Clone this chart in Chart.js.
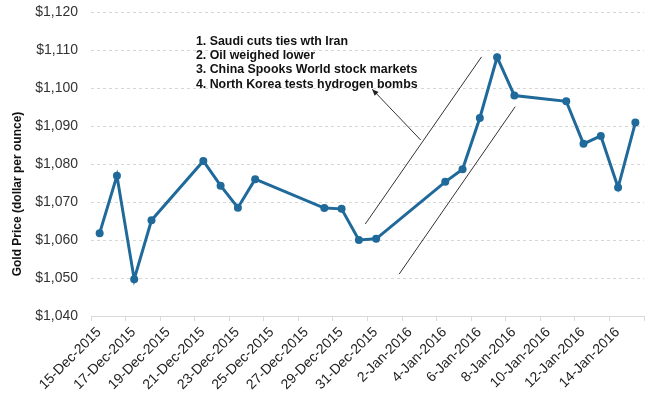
<!DOCTYPE html>
<html>
<head>
<meta charset="utf-8">
<script src="https://cdn.jsdelivr.net/npm/chart.js@4"></script>
<style>
  html, body { margin: 0; padding: 0; background: #fff; }
  #wrap { width: 651px; height: 398px; }
</style>
</head>
<body>
<div id="wrap"><canvas id="gold"></canvas></div>
<script>
// trading days and closing gold price (USD / oz)
const dates = ['2015-12-15','2015-12-16','2015-12-17','2015-12-18','2015-12-21','2015-12-22','2015-12-23','2015-12-24',
  '2015-12-28','2015-12-29','2015-12-30','2015-12-31','2016-01-04','2016-01-05','2016-01-06','2016-01-07','2016-01-08',
  '2016-01-11','2016-01-12','2016-01-13','2016-01-14','2016-01-15'];
const prices = [1061.8, 1076.9, 1049.7, 1065.2, 1080.8, 1074.3, 1068.5, 1076.0,
  1068.4, 1068.2, 1060.0, 1060.3, 1075.3, 1078.6, 1092.1, 1108.1, 1098.0,
  1096.5, 1085.3, 1087.4, 1073.8, 1090.9];
const tickLabels = ['15-Dec-2015','17-Dec-2015','19-Dec-2015','21-Dec-2015','23-Dec-2015','25-Dec-2015','27-Dec-2015',
  '29-Dec-2015','31-Dec-2015','2-Jan-2016','4-Jan-2016','6-Jan-2016','8-Jan-2016','10-Jan-2016','12-Jan-2016','14-Jan-2016'];
const events = ['1. Saudi cuts ties wth Iran', '2. Oil weighed lower', '3. China Spooks World stock markets', '4. North Korea tests hydrogen bombs'];
const yTitle = 'Gold Price (dollar per ounce)';

const start = Date.UTC(2015, 11, 15);
// each day sits in the middle of its slot
const points = dates.map((d, i) => ({ x: (Date.parse(d) - start) / 86400000 + 0.5, y: prices[i] }));

const BLUE = '#1f6a9a';
const FONT = '"Liberation Sans", Arial, sans-serif';

// axis title, callout text, arrow and the two trend lines (in data units)
const notes = {
  id: 'notes',
  afterDatasetsDraw(chart) {
    const { ctx, scales: { x, y } } = chart;
    const px = (d, v) => [x.getPixelForValue(d), y.getPixelForValue(v)];
    ctx.save();

    ctx.save();
    ctx.translate(18, 194);
    ctx.rotate(-Math.PI / 2);
    ctx.fillStyle = '#111';
    ctx.font = 'bold 12px ' + FONT;
    ctx.textAlign = 'center';
    ctx.textBaseline = 'middle';
    ctx.fillText(yTitle, 0, 0);
    ctx.restore();

    ctx.fillStyle = '#111';
    ctx.font = 'bold 12.4px ' + FONT;
    ctx.textBaseline = 'middle';
    const [tx, ty] = px(6.07, 1112.2);
    events.forEach((t, i) => ctx.fillText(t, tx, ty + i * 14.2));

    ctx.strokeStyle = '#333';
    ctx.lineWidth = 1;
    const line = (a, b) => { ctx.beginPath(); ctx.moveTo(a[0], a[1]); ctx.lineTo(b[0], b[1]); ctx.stroke(); };
    line(px(15.87, 1064.2), px(22.6, 1108.2));
    line(px(17.83, 1051.0), px(24.55, 1095.1));

    const tail = px(19.08, 1086.3), head = px(16.27, 1099.7);
    line(tail, head);
    const ang = Math.atan2(head[1] - tail[1], head[0] - tail[0]);
    ctx.fillStyle = '#222';
    ctx.beginPath();
    ctx.moveTo(head[0], head[1]);
    ctx.lineTo(head[0] - 7 * Math.cos(ang - 0.4), head[1] - 7 * Math.sin(ang - 0.4));
    ctx.lineTo(head[0] - 7 * Math.cos(ang + 0.4), head[1] - 7 * Math.sin(ang + 0.4));
    ctx.closePath();
    ctx.fill();
    ctx.restore();
  }
};

new Chart(document.getElementById('gold').getContext('2d'), {
  type: 'line',
  data: { datasets: [{ data: points, borderColor: BLUE, backgroundColor: BLUE, borderWidth: 3,
    pointRadius: 4, pointBackgroundColor: BLUE, pointBorderWidth: 0, tension: 0 }] },
  options: {
    responsive: true, maintainAspectRatio: false, animation: false,
    layout: { padding: { top: 12, right: 7, left: 0, bottom: 0 } },
    plugins: { legend: { display: false }, tooltip: { enabled: false } },
    scales: {
      x: {
        type: 'linear', min: 0, max: 32,
        afterFit: s => { s.height = 82; s.paddingLeft = 0; s.paddingRight = 0; },
        grid: { drawOnChartArea: false, tickLength: 5, color: '#d9d9d9' },
        border: { color: '#d9d9d9' },
        ticks: { stepSize: 2, autoSkip: false, maxRotation: 45, minRotation: 45, padding: 3, labelOffset: 8,
          color: '#222', font: { family: FONT, size: 14 },
          callback: v => tickLabels[v / 2] || '' }
      },
      y: {
        min: 1040, max: 1120,
        afterFit: s => { s.width = 91; s.paddingTop = 0; s.paddingBottom = 0; },
        grid: { color: '#d6d6d6', borderDash: [3, 3], drawTicks: false },
        border: { display: false, dash: [3, 3] },
        ticks: { stepSize: 10, padding: 13, color: '#333',
          font: { family: FONT, size: 14 },
          callback: v => '$' + v.toLocaleString('en-US') }
      }
    }
  },
  plugins: [notes]
});
</script>
</body>
</html>
